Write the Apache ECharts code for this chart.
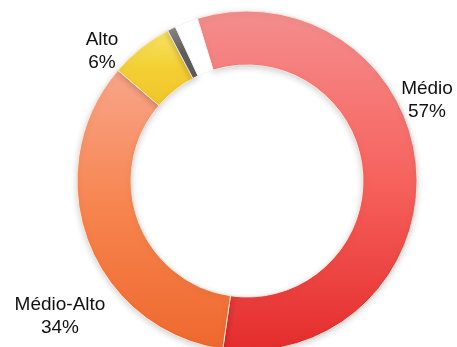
<!DOCTYPE html>
<html>
<head>
<meta charset="utf-8">
<script src="https://cdn.jsdelivr.net/npm/echarts@6/dist/echarts.min.js"></script>
<style>
  html, body { margin: 0; padding: 0; background: #fff; }
  #chart { width: 457px; height: 347px; }
</style>
</head>
<body>
<div id="chart"></div>
<script>
// categorias e valores (%)
var categories = ['Médio', 'Médio-Alto', 'Alto', 'Baixo', 'Outros'];
var values = [57, 34, 6, 0.8, 2.2];
var showLabel = [true, true, true, false, false];

// cores de cada fatia (gradiente de cima para baixo)
var sliceColors = [
    ['#f48e8e', '#f7625d', '#e42c2c'],
    ['#f8a58a', '#f7844e', '#ee682e'],
    ['#f7e466', '#f3cf33', '#f1c52a'],
    ['#8a8a8a', '#5e5e5e', '#5e5e5e'],
    ['#ffffff', '#ffffff', '#ffffff']
];

// posição dos rótulos (centro do bloco de texto)
var labelPos = {
    0: [427, 100],
    1: [60, 316],
    2: [102, 51]
};

var chart = echarts.init(document.getElementById('chart'));

var pieData = categories.map(function (name, i) {
    var last = i === categories.length - 1;
    return {
        name: name,
        value: values[i],
        label: { show: showLabel[i] },
        itemStyle: {
            shadowBlur: last ? 0 : 6,
            shadowColor: last ? 'transparent' : 'rgba(0,0,0,0.18)',
            borderColor: last ? 'rgba(240,240,240,0.8)' : 'rgba(255,235,220,0.9)',
            color: {
                type: 'linear', x: 0, y: 0, x2: 0, y2: 1,
                colorStops: [
                    { offset: 0, color: sliceColors[i][0] },
                    { offset: 0.5, color: sliceColors[i][1] },
                    { offset: 1, color: sliceColors[i][2] }
                ]
            }
        }
    };
});

var option = {
    animation: false,
    backgroundColor: '#ffffff',
    series: [
        {
            type: 'pie',
            center: [247, 181],
            radius: [116, 170],
            startAngle: 107,
            clockwise: true,
            avoidLabelOverlap: false,
            itemStyle: {
                borderWidth: 1,
                shadowOffsetY: 2
            },
            label: {
                position: 'outside',
                formatter: '{b}\n{c}%',
                fontFamily: '"Liberation Sans", Arial, sans-serif',
                fontSize: 19,
                lineHeight: 23,
                color: '#111',
                align: 'center'
            },
            labelLine: { show: false },
            labelLayout: function (params) {
                var p = labelPos[params.dataIndex];
                if (!p) return {};
                return { x: p[0], y: p[1], align: 'center', verticalAlign: 'middle' };
            },
            emphasis: { disabled: true },
            data: pieData
        }
    ]
};

option && chart.setOption(option);
</script>
</body>
</html>
